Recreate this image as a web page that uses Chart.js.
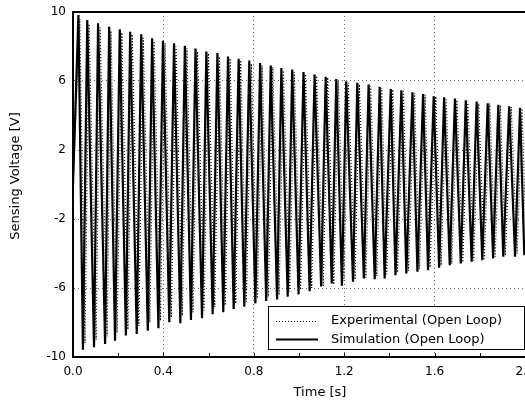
<!DOCTYPE html>
<html>
<head>
<meta charset="utf-8">
<script src="https://cdn.jsdelivr.net/npm/chart.js@4.4.1/dist/chart.umd.min.js"></script>
<style>
  html, body { margin: 0; padding: 0; background: #fff; }
  #wrap { width: 525px; height: 404px; position: relative; }
</style>
</head>
<body>
<div id="wrap"><canvas id="c" width="525" height="404"></canvas></div>
<script>
// ---- data ----
const xTickLabels = ["0.0", "0.4", "0.8", "1.2", "1.6", "2.0"];
const yTickLabels = ["-10", "-6", "-2", "2", "6", "10"];

// Simulation (solid) extrema
const simPeakTime = [0.024,0.063,0.111,0.160,0.207,0.253,0.302,0.350,0.398,0.447,0.495,0.542,0.590,0.639,0.686,0.733,0.780,0.828,0.875,0.922,0.970,1.020,1.069,1.118,1.165,1.209,1.258,1.308,1.357,1.406,1.453,1.502,1.549,1.596,1.642,1.690,1.738,1.786,1.835,1.882,1.930,1.978];
const simPeakVolt = [9.83,9.54,9.35,9.15,9.00,8.85,8.71,8.48,8.33,8.19,8.04,7.88,7.71,7.62,7.42,7.29,7.18,7.04,6.90,6.75,6.66,6.52,6.37,6.24,6.12,5.98,5.89,5.79,5.66,5.54,5.46,5.35,5.25,5.12,5.06,4.98,4.88,4.81,4.71,4.62,4.54,4.45];
const simTroughTime = [0.044,0.093,0.142,0.186,0.234,0.282,0.331,0.378,0.426,0.475,0.522,0.571,0.618,0.665,0.711,0.758,0.807,0.855,0.903,0.950,0.998,1.047,1.098,1.145,1.190,1.239,1.287,1.335,1.379,1.427,1.475,1.524,1.571,1.620,1.667,1.716,1.764,1.811,1.859,1.904,1.956,1.997];
const simTroughVolt = [-9.58,-9.44,-9.25,-9.06,-8.75,-8.67,-8.48,-8.33,-7.98,-8.04,-7.85,-7.75,-7.52,-7.41,-7.22,-7.08,-6.89,-6.75,-6.66,-6.50,-6.37,-6.18,-5.91,-5.74,-5.87,-5.64,-5.45,-5.49,-5.45,-5.26,-5.16,-5.06,-4.97,-4.83,-4.68,-4.58,-4.48,-4.39,-4.29,-4.19,-4.19,-4.10];

// Experimental (dotted) extrema
const expPeakTime = [0.030,0.071,0.120,0.168,0.216,0.262,0.311,0.359,0.407,0.456,0.504,0.551,0.599,0.648,0.695,0.742,0.789,0.837,0.884,0.931,0.979,1.029,1.078,1.127,1.174,1.218,1.267,1.317,1.366,1.415,1.462,1.511,1.558,1.605,1.651,1.699,1.747,1.795,1.844,1.891,1.939,1.987];
const expPeakVolt = [9.60,9.30,9.10,8.90,8.80,8.70,8.50,8.30,8.20,8.00,7.90,7.70,7.60,7.40,7.30,7.20,7.00,6.90,6.80,6.60,6.50,6.40,6.30,6.20,6.00,5.90,5.80,5.70,5.60,5.50,5.40,5.30,5.20,5.10,5.00,4.90,4.80,4.70,4.70,4.60,4.50,4.40];
const expTroughTime = [0.053,0.102,0.151,0.195,0.243,0.291,0.340,0.387,0.435,0.484,0.531,0.580,0.627,0.674,0.720,0.767,0.816,0.864,0.912,0.959,1.007,1.056,1.107,1.154,1.199,1.248,1.296,1.344,1.388,1.436,1.484,1.533,1.580,1.629,1.676,1.725,1.773,1.820,1.868,1.913,1.965,2.006];
const expTroughVolt = [-9.20,-9.00,-8.80,-8.60,-8.40,-8.20,-8.00,-7.90,-7.70,-7.60,-7.40,-7.30,-7.10,-7.00,-6.90,-6.80,-6.60,-6.50,-6.40,-6.20,-6.10,-6.00,-5.90,-5.80,-5.60,-5.50,-5.40,-5.30,-5.20,-5.10,-5.00,-4.90,-4.80,-4.70,-4.60,-4.50,-4.40,-4.30,-4.20,-4.10,-4.00,-3.90];

const seriesNames = ["Experimental (Open Loop)", "Simulation (Open Loop)"];
const xTitle = "Time [s]";
const yTitle = "Sensing Voltage [V]";

// ---- build point tables by interleaving peaks and troughs ----
function interleave(pt, pv, tt, tv) {
  const out = [{x: 0, y: 0}];
  for (let i = 0; i < pt.length; i++) {
    out.push({x: pt[i], y: pv[i]});
    if (i < tt.length) out.push({x: tt[i], y: tv[i]});
  }
  return out;
}
const simData = interleave(simPeakTime, simPeakVolt, simTroughTime, simTroughVolt);
const expData = interleave(expPeakTime, expPeakVolt, expTroughTime, expTroughVolt);

const FONT = "'DejaVu Sans', sans-serif";

const decor = {
  id: 'decor',
  afterDraw(chart) {
    const ctx = chart.ctx;
    const a = chart.chartArea;
    const xs = chart.scales.x;
    ctx.save();
    // top frame line
    ctx.strokeStyle = '#000';
    ctx.lineWidth = 2;
    ctx.beginPath();
    ctx.moveTo(a.left, a.top); ctx.lineTo(a.right, a.top);
    ctx.stroke();
    // small inward ticks on bottom axis (every 0.2)
    ctx.lineWidth = 1;
    for (let k = 1; k < 10; k++) {
      const px = Math.round(xs.getPixelForValue(k * 0.2)) + 0.5;
      ctx.beginPath(); ctx.moveTo(px, a.bottom); ctx.lineTo(px, a.bottom - 4); ctx.stroke();
    }
    // legend box
    const bx = 268.5, by = 306.5, bw = 256, bh = 43;
    ctx.fillStyle = '#fff';
    ctx.fillRect(bx, by, bw, bh);
    ctx.strokeStyle = '#000';
    ctx.lineWidth = 1;
    ctx.strokeRect(bx, by, bw, bh);
    ctx.setLineDash([1, 2]);
    ctx.beginPath(); ctx.moveTo(276, 321.5); ctx.lineTo(318, 321.5); ctx.stroke();
    ctx.setLineDash([]);
    ctx.lineWidth = 1.8;
    ctx.beginPath(); ctx.moveTo(276, 339.5); ctx.lineTo(318, 339.5); ctx.stroke();
    ctx.fillStyle = '#000';
    ctx.font = "13px " + FONT;
    ctx.textBaseline = 'middle';
    ctx.textAlign = 'left';
    ctx.fillText(seriesNames[0], 331, 321);
    ctx.fillText(seriesNames[1], 331, 340);
    // axis titles
    ctx.textAlign = 'center';
    ctx.fillText(xTitle, 320, 393);
    ctx.translate(16, 176);
    ctx.rotate(-Math.PI / 2);
    ctx.fillText(yTitle, 0, 0);
    ctx.restore();
  }
};

new Chart(document.getElementById('c'), {
  type: 'line',
  data: {
    datasets: [
      {
        label: seriesNames[0],
        data: expData,
        borderColor: '#000',
        borderWidth: 1.2,
        borderDash: [1, 2],
        pointRadius: 0,
        tension: 0,
        fill: false
      },
      {
        label: seriesNames[1],
        data: simData,
        borderColor: '#000',
        borderWidth: 2.2,
        pointRadius: 0,
        tension: 0,
        fill: false
      }
    ]
  },
  options: {
    responsive: false,
    animation: false,
    events: [],
    layout: { padding: { top: 12, left: 0, right: 0, bottom: 0 } },
    plugins: { legend: { display: false }, tooltip: { enabled: false } },
    scales: {
      x: {
        type: 'linear',
        min: 0, max: 2,
        grid: { color: '#666', lineWidth: 1, drawTicks: false },
        border: { display: true, color: '#000', width: 2, dash: [1, 3] },
        ticks: {
          stepSize: 0.4,
          autoSkip: false,
          maxRotation: 0,
          padding: 8,
          color: '#000',
          font: { family: FONT, size: 12 },
          callback: (v) => {
            const i = Math.round(v / 0.4);
            return xTickLabels[i] !== undefined ? xTickLabels[i] : '';
          }
        },
        afterFit(s) { s.height = 47; s.paddingLeft = 0; s.paddingRight = 0; }
      },
      y: {
        min: -10, max: 10,
        grid: { color: '#666', lineWidth: 1, drawTicks: false },
        border: { display: true, color: '#000', width: 2, dash: [1, 3] },
        ticks: {
          stepSize: 4,
          autoSkip: false,
          padding: 7,
          color: '#000',
          font: { family: FONT, size: 12 },
          callback: (v) => {
            const i = Math.round((v + 10) / 4);
            return yTickLabels[i] !== undefined ? yTickLabels[i] : '';
          }
        },
        afterFit(s) { s.width = 73; s.paddingTop = 0; s.paddingBottom = 0; }
      }
    }
  },
  plugins: [decor]
});
</script>
</body>
</html>
